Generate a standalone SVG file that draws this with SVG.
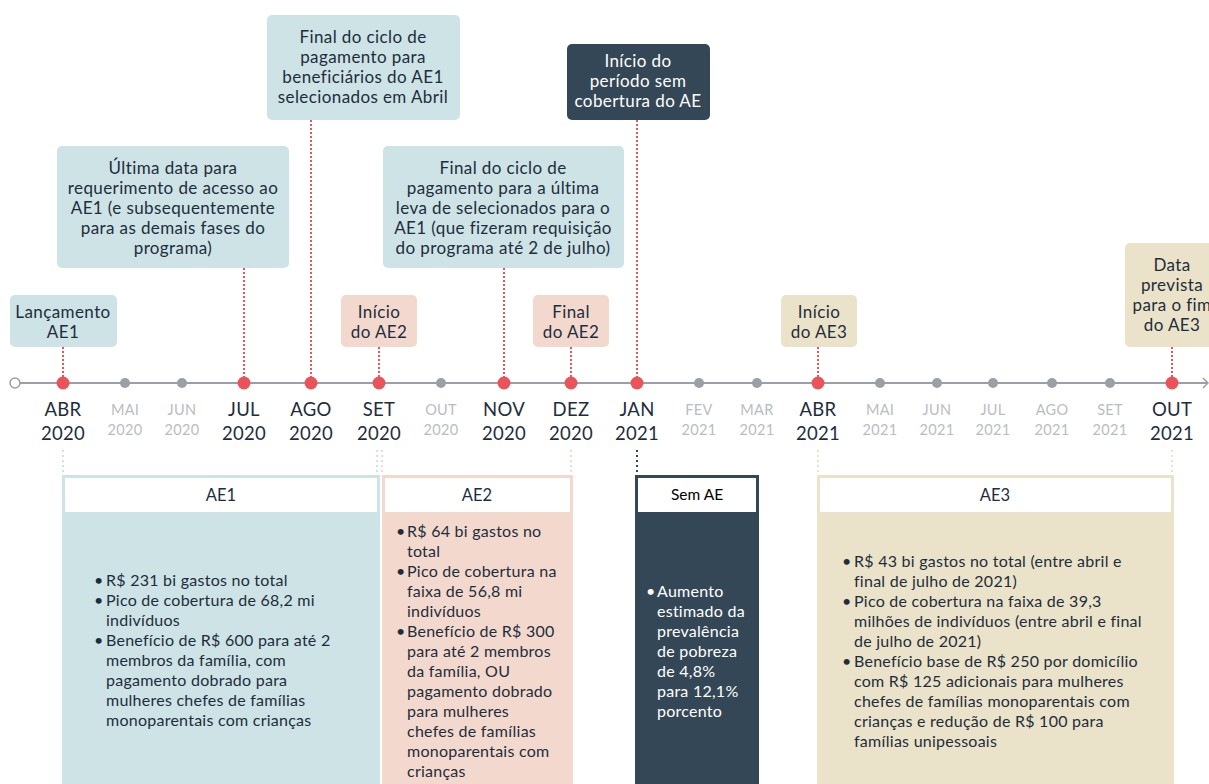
<svg xmlns="http://www.w3.org/2000/svg" width="1209" height="784" viewBox="0 0 1209 784">
<style>
text{font-family:Lato,"Open Sans","DejaVu Sans",sans-serif;fill:#1e2d3d}
.cb{font-size:17px;letter-spacing:0.4px;text-anchor:middle}
.cw{font-size:17px;letter-spacing:0.4px;text-anchor:middle;fill:#ffffff}
.mo{font-size:18.5px;letter-spacing:0.3px;text-anchor:middle}
.mf{font-size:14.5px;letter-spacing:0.3px;text-anchor:middle;fill:#b9bdc1}
.hd{font-size:16.5px;text-anchor:middle}
.bt{font-size:16px;letter-spacing:0.25px}
.bw{font-size:16px;letter-spacing:0.25px;fill:#ffffff}
.red{stroke:#e9545a;stroke-width:2;stroke-dasharray:2 2;fill:none}
.teal{fill:#cde3e5}
.peach{fill:#f3d9cd}
.beige{fill:#eae3c9}
.dark{fill:#344756}
.rd{fill:#e9545a}
.gd{fill:#9aa0a6}
</style>
<rect width="1209" height="784" fill="#ffffff"/>

<!-- connectors -->
<g id="connectors">
<line x1="63" y1="347" x2="63" y2="378" class="red"/>
<line x1="244" y1="268" x2="244" y2="378" class="red"/>
<line x1="311" y1="120" x2="311" y2="378" class="red"/>
<line x1="379" y1="347" x2="379" y2="378" class="red"/>
<line x1="504" y1="268" x2="504" y2="378" class="red"/>
<line x1="571" y1="347" x2="571" y2="378" class="red"/>
<line x1="637" y1="120" x2="637" y2="378" class="red"/>
<line x1="818" y1="347" x2="818" y2="378" class="red"/>
<line x1="1172" y1="347" x2="1172" y2="378" class="red"/>
<!-- faint lines below axis -->
<line x1="63" y1="450" x2="63" y2="475" stroke="#cde3e5" stroke-width="2" stroke-dasharray="2 3"/>
<line x1="377" y1="450" x2="377" y2="475" stroke="#cde3e5" stroke-width="2" stroke-dasharray="2 3"/>
<line x1="382" y1="450" x2="382" y2="475" stroke="#f3d9cd" stroke-width="2" stroke-dasharray="2 3"/>
<line x1="571" y1="450" x2="571" y2="475" stroke="#f3d9cd" stroke-width="2" stroke-dasharray="2 3"/>
<line x1="637" y1="450" x2="637" y2="475" stroke="#344756" stroke-width="2" stroke-dasharray="2 3"/>
<line x1="818" y1="450" x2="818" y2="475" stroke="#eae3c9" stroke-width="2" stroke-dasharray="2 3"/>
<line x1="1172" y1="450" x2="1172" y2="475" stroke="#eae3c9" stroke-width="2" stroke-dasharray="2 3"/>
</g>

<!-- axis -->
<g id="axis">
<line x1="20" y1="383" x2="1207" y2="383" stroke="#9aa0a6" stroke-width="2"/>
<path d="M1203 378 L1208 383 L1203 388" fill="none" stroke="#9aa0a6" stroke-width="1.5"/>
<circle cx="15" cy="383" r="5" fill="#ffffff" stroke="#9aa0a6" stroke-width="1.5"/>
<circle cx="63" cy="383" r="6.5" class="rd"/>
<circle cx="125" cy="383" r="5" class="gd"/>
<circle cx="182" cy="383" r="5" class="gd"/>
<circle cx="244" cy="383" r="6.5" class="rd"/>
<circle cx="311" cy="383" r="6.5" class="rd"/>
<circle cx="379" cy="383" r="6.5" class="rd"/>
<circle cx="441" cy="383" r="5" class="gd"/>
<circle cx="504" cy="383" r="6.5" class="rd"/>
<circle cx="571" cy="383" r="6.5" class="rd"/>
<circle cx="637" cy="383" r="6.5" class="rd"/>
<circle cx="699" cy="383" r="5" class="gd"/>
<circle cx="757" cy="383" r="5" class="gd"/>
<circle cx="818" cy="383" r="6.5" class="rd"/>
<circle cx="880" cy="383" r="5" class="gd"/>
<circle cx="937" cy="383" r="5" class="gd"/>
<circle cx="993" cy="383" r="5" class="gd"/>
<circle cx="1052" cy="383" r="5" class="gd"/>
<circle cx="1110" cy="383" r="5" class="gd"/>
<circle cx="1172" cy="383" r="6.5" class="rd"/>
</g>

<!-- month labels -->
<g id="months">
<text x="63" y="416" class="mo">ABR</text><text x="63" y="440" class="mo">2020</text>
<text x="125" y="415" class="mf">MAI</text><text x="125" y="435" class="mf">2020</text>
<text x="182" y="415" class="mf">JUN</text><text x="182" y="435" class="mf">2020</text>
<text x="244" y="416" class="mo">JUL</text><text x="244" y="440" class="mo">2020</text>
<text x="311" y="416" class="mo">AGO</text><text x="311" y="440" class="mo">2020</text>
<text x="379" y="416" class="mo">SET</text><text x="379" y="440" class="mo">2020</text>
<text x="441" y="415" class="mf">OUT</text><text x="441" y="435" class="mf">2020</text>
<text x="504" y="416" class="mo">NOV</text><text x="504" y="440" class="mo">2020</text>
<text x="571" y="416" class="mo">DEZ</text><text x="571" y="440" class="mo">2020</text>
<text x="637" y="416" class="mo">JAN</text><text x="637" y="440" class="mo">2021</text>
<text x="699" y="415" class="mf">FEV</text><text x="699" y="435" class="mf">2021</text>
<text x="757" y="415" class="mf">MAR</text><text x="757" y="435" class="mf">2021</text>
<text x="818" y="416" class="mo">ABR</text><text x="818" y="440" class="mo">2021</text>
<text x="880" y="415" class="mf">MAI</text><text x="880" y="435" class="mf">2021</text>
<text x="937" y="415" class="mf">JUN</text><text x="937" y="435" class="mf">2021</text>
<text x="993" y="415" class="mf">JUL</text><text x="993" y="435" class="mf">2021</text>
<text x="1052" y="415" class="mf">AGO</text><text x="1052" y="435" class="mf">2021</text>
<text x="1110" y="415" class="mf">SET</text><text x="1110" y="435" class="mf">2021</text>
<text x="1172" y="416" class="mo">OUT</text><text x="1172" y="440" class="mo">2021</text>
</g>

<!-- callouts -->
<g id="c-lancamento">
<rect x="10" y="295" width="107" height="52" rx="5" class="teal"/>
<text x="63" y="318" class="cb">Lançamento</text>
<text x="63" y="338" class="cb">AE1</text>
</g>
<g id="c-ultima">
<rect x="57" y="146" width="232" height="122" rx="5" class="teal"/>
<text x="173" y="174" class="cb">Última data para</text>
<text x="173" y="194" class="cb">requerimento de acesso ao</text>
<text x="173" y="214" class="cb">AE1 (e subsequentemente</text>
<text x="173" y="234" class="cb">para as demais fases do</text>
<text x="173" y="254" class="cb">programa)</text>
</g>
<g id="c-final-abril">
<rect x="267" y="15" width="193" height="105" rx="5" class="teal"/>
<text x="363" y="43" class="cb">Final do ciclo de</text>
<text x="363" y="63" class="cb">pagamento para</text>
<text x="363" y="83" class="cb">beneficiários do AE1</text>
<text x="363" y="103" class="cb">selecionados em Abril</text>
</g>
<g id="c-inicio-ae2">
<rect x="341" y="295" width="76" height="52" rx="5" class="peach"/>
<text x="379" y="318" class="cb">Início</text>
<text x="379" y="338" class="cb">do AE2</text>
</g>
<g id="c-final-ultima">
<rect x="383" y="146" width="241" height="122" rx="5" class="teal"/>
<text x="503" y="174" class="cb">Final do ciclo de</text>
<text x="503" y="194" class="cb">pagamento para a última</text>
<text x="503" y="214" class="cb">leva de selecionados para o</text>
<text x="503" y="234" class="cb">AE1 (que fizeram requisição</text>
<text x="503" y="254" class="cb">do programa até 2 de julho)</text>
</g>
<g id="c-final-ae2">
<rect x="533" y="295" width="76" height="52" rx="5" class="peach"/>
<text x="571" y="318" class="cb">Final</text>
<text x="571" y="338" class="cb">do AE2</text>
</g>
<g id="c-sem">
<rect x="567" y="44" width="143" height="76" rx="5" class="dark"/>
<text x="638" y="67" class="cw">Início do</text>
<text x="638" y="87" class="cw">período sem</text>
<text x="638" y="107" class="cw">cobertura do AE</text>
</g>
<g id="c-inicio-ae3">
<rect x="781" y="295" width="76" height="52" rx="5" class="beige"/>
<text x="819" y="318" class="cb">Início</text>
<text x="819" y="338" class="cb">do AE3</text>
</g>
<g id="c-fim-ae3">
<rect x="1125" y="243" width="100" height="104" rx="5" class="beige"/>
<text x="1172" y="271" class="cb">Data</text>
<text x="1172" y="291" class="cb">prevista</text>
<text x="1172" y="311" class="cb">para o fim</text>
<text x="1172" y="331" class="cb">do AE3</text>
</g>

<!-- panels -->
<g id="p-ae1">
<rect x="63.5" y="476.5" width="315" height="330" class="teal" stroke="#cde3e5" stroke-width="3"/>
<rect x="65" y="478" width="312" height="34" fill="#ffffff"/>
<text x="221" y="501" class="hd">AE1</text>
<text x="94" y="586" class="bt">•</text><text x="106" y="586" class="bt">R$ 231 bi gastos no total</text>
<text x="94" y="606" class="bt">•</text><text x="106" y="606" class="bt">Pico de cobertura de 68,2 mi</text>
<text x="106" y="626" class="bt">indivíduos</text>
<text x="94" y="646" class="bt">•</text><text x="106" y="646" class="bt">Benefício de R$ 600 para até 2</text>
<text x="106" y="666" class="bt">membros da família, com</text>
<text x="106" y="686" class="bt">pagamento dobrado para</text>
<text x="106" y="706" class="bt">mulheres chefes de famílias</text>
<text x="106" y="726" class="bt">monoparentais com crianças</text>
</g>
<g id="p-ae2">
<rect x="383.5" y="476.5" width="188" height="330" class="peach" stroke="#f3d9cd" stroke-width="3"/>
<rect x="385" y="478" width="185" height="34" fill="#ffffff"/>
<text x="477" y="501" class="hd">AE2</text>
<text x="396" y="537" class="bt">•</text><text x="407" y="537" class="bt">R$ 64 bi gastos no</text>
<text x="407" y="557" class="bt">total</text>
<text x="396" y="577" class="bt">•</text><text x="407" y="577" class="bt">Pico de cobertura na</text>
<text x="407" y="597" class="bt">faixa de 56,8 mi</text>
<text x="407" y="617" class="bt">indivíduos</text>
<text x="396" y="637" class="bt">•</text><text x="407" y="637" class="bt">Benefício de R$ 300</text>
<text x="407" y="657" class="bt">para até 2 membros</text>
<text x="407" y="677" class="bt">da família, OU</text>
<text x="407" y="697" class="bt">pagamento dobrado</text>
<text x="407" y="717" class="bt">para mulheres</text>
<text x="407" y="737" class="bt">chefes de famílias</text>
<text x="407" y="757" class="bt">monoparentais com</text>
<text x="407" y="777" class="bt">crianças</text>
</g>
<g id="p-sem">
<rect x="636.5" y="476.5" width="121" height="330" class="dark" stroke="#344756" stroke-width="3"/>
<rect x="638" y="478" width="118" height="34" fill="#ffffff"/>
<text x="697" y="500" style="font-size:15.5px;text-anchor:middle;fill:#000000">Sem AE</text>
<text x="646" y="597" class="bw">•</text><text x="657" y="597" class="bw">Aumento</text>
<text x="657" y="617" class="bw">estimado da</text>
<text x="657" y="637" class="bw">prevalência</text>
<text x="657" y="657" class="bw">de pobreza</text>
<text x="657" y="677" class="bw">de 4,8%</text>
<text x="657" y="697" class="bw">para 12,1%</text>
<text x="657" y="717" class="bw">porcento</text>
</g>
<g id="p-ae3">
<rect x="818.5" y="476.5" width="354" height="330" class="beige" stroke="#eae3c9" stroke-width="3"/>
<rect x="820" y="478" width="351" height="34" fill="#ffffff"/>
<text x="995" y="501" class="hd">AE3</text>
<text x="842" y="567" class="bt">•</text><text x="854" y="567" class="bt">R$ 43 bi gastos no total (entre abril e</text>
<text x="854" y="587" class="bt">final de julho de 2021)</text>
<text x="842" y="607" class="bt">•</text><text x="854" y="607" class="bt">Pico de cobertura na faixa de 39,3</text>
<text x="854" y="627" class="bt">milhões de indivíduos (entre abril e final</text>
<text x="854" y="647" class="bt">de julho de 2021)</text>
<text x="842" y="667" class="bt">•</text><text x="854" y="667" class="bt">Benefício base de R$ 250 por domicílio</text>
<text x="854" y="687" class="bt">com R$ 125 adicionais para mulheres</text>
<text x="854" y="707" class="bt">chefes de famílias monoparentais com</text>
<text x="854" y="727" class="bt">crianças e redução de R$ 100 para</text>
<text x="854" y="747" class="bt">famílias unipessoais</text>
</g>
</svg>
